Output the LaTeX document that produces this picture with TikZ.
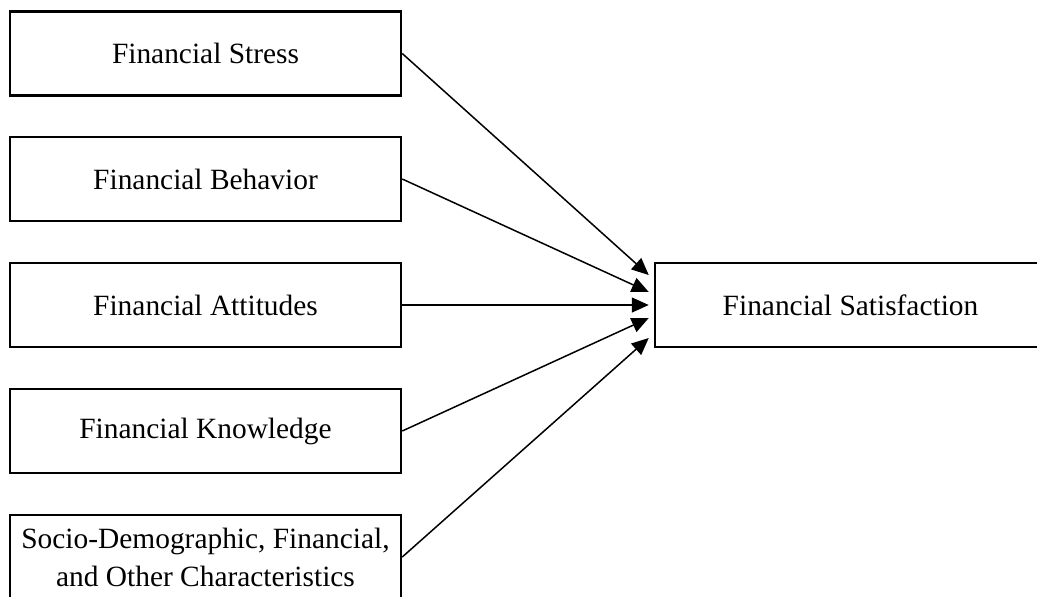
\documentclass[tikz,border=0pt]{standalone}
\usepackage{fontspec}
\setmainfont{Liberation Serif}
\usetikzlibrary{arrows.meta,calc}
\begin{document}
\begin{tikzpicture}[x=0.5pt,y=-0.5pt,
  factor/.style={draw,line width=1.25pt,minimum width=195.5pt,minimum height=42pt,
    inner sep=0pt,align=center,font=\fontsize{14.7}{19}\selectfont},
  arr/.style={line width=0.75pt,-{Triangle[length=8.5pt,width=7.5pt]}}]
\useasboundingbox (0,0) rectangle (1037,596);
\clip (0,0) rectangle (1037,596);
\def\xl{205.5};
\node[factor] (stress) at (\xl,53.5) {Financial Stress};
\node[factor] (behavior) at (\xl,179) {Financial Behavior};
\node[factor] (attitudes) at (\xl,305) {Financial Attitudes};
\node[factor] (knowledge) at (\xl,431) {Financial Knowledge};
\node[factor] (socio) at (\xl,557) {Socio-Demographic, Financial,\\and Other Characteristics};
\node[factor] (satis) at (850.5,305) {Financial Satisfaction};
% arrow tips just left of the outcome box
\coordinate (tipA) at ($(satis.west)+(-5,-30)$);
\coordinate (tipB) at ($(satis.west)+(-5,-13)$);
\coordinate (tipC) at ($(satis.west)+(-5,0)$);
\coordinate (tipD) at ($(satis.west)+(-5,13)$);
\coordinate (tipE) at ($(satis.west)+(-5,33)$);
\draw[arr] (stress.east) -- (tipA);
\draw[arr] (behavior.east) -- (tipB);
\draw[arr] (attitudes.east) -- (tipC);
\draw[arr] (knowledge.east) -- (tipD);
\draw[arr] (socio.east) -- (tipE);
\end{tikzpicture}
\end{document}
